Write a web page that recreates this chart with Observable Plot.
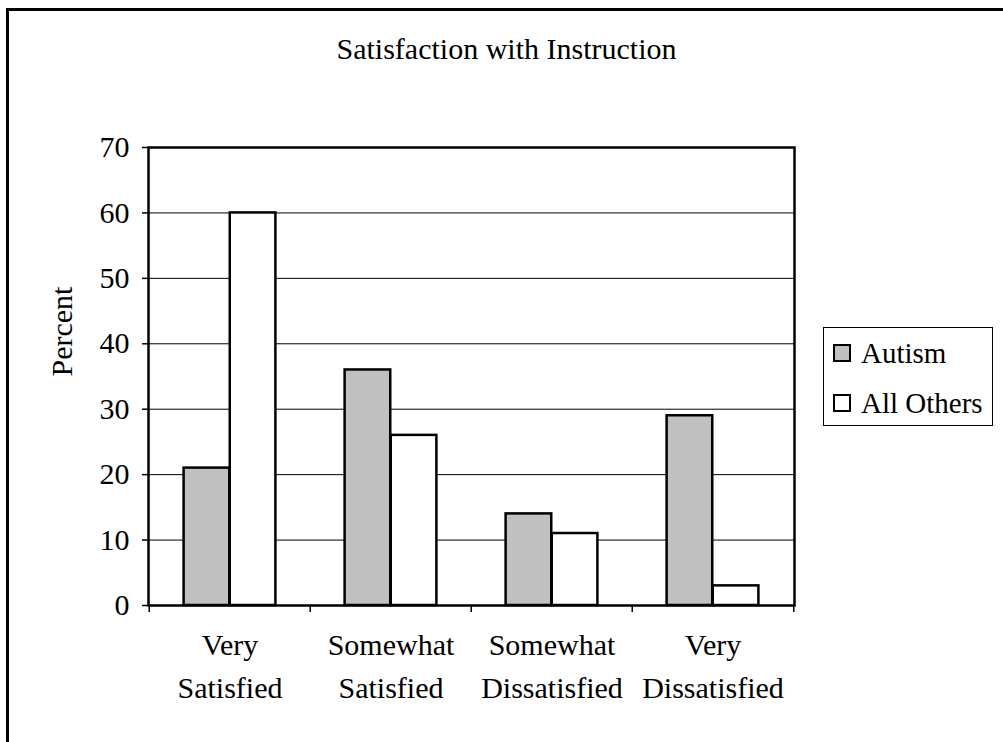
<!DOCTYPE html>
<html>
<head>
<meta charset="utf-8">
<script src="https://cdn.jsdelivr.net/npm/d3@7"></script>
<script src="https://cdn.jsdelivr.net/npm/@observablehq/plot@0.6"></script>
<style>
  html, body { margin: 0; padding: 0; background: #fff; }
  #wrap { position: relative; width: 1003px; height: 742px; overflow: hidden; background: #fff;
          font-family: "Liberation Serif", "Times New Roman", serif; color: #000; }
  #outer { position: absolute; left: 6px; top: 8px; width: 1100px; height: 733px;
           border-left: 3px solid #000; border-top: 3px solid #000; border-bottom: 1px solid #bbb; }
  #title { position: absolute; left: 0; width: 1013px; top: 32px; text-align: center; font-size: 30px; line-height: 34px; }
  #chart { position: absolute; left: 0; top: 0; }
  #legend { position: absolute; left: 823px; top: 327px; width: 170px; height: 99px; box-sizing: border-box;
            border: 1px solid #000; background: #fff; font-size: 29px; }
  .item { position: absolute; left: 9px; height: 34px; display: flex; align-items: center; white-space: nowrap; }
  .item svg { margin-right: 10px; }
</style>
</head>
<body>
<div id="wrap">
  <div id="outer"></div>
  <div id="chart"></div>
  <div id="title"></div>
  <div id="legend"></div>
</div>
<script>
// ---- data ----
const title = "Satisfaction with Instruction";
const yLabel = "Percent";
const categories = ["Very Satisfied", "Somewhat Satisfied", "Somewhat Dissatisfied", "Very Dissatisfied"];
const categoryLines = [["Very", "Satisfied"], ["Somewhat", "Satisfied"], ["Somewhat", "Dissatisfied"], ["Very", "Dissatisfied"]];
const seriesNames = ["Autism", "All Others"];
const autism = [21, 36, 14, 29];
const allOthers = [60, 26, 11, 3];
const seriesColors = ["#C0C0C0", "#FFFFFF"];
const yTicks = [0, 10, 20, 30, 40, 50, 60, 70];

// ---- layout ----
const W = 1003, H = 742;
const mL = 148, mR = 209, mT = 147, mB = 137;
const bw = (W - mL - mR) / categories.length;   // band width per category
const barW = bw / 3.5;                          // gap width 75%
const outer = (bw - 2 * barW) / 2;

const autismData = categories.map((c, i) => ({category: c, value: autism[i]}));
const othersData = categories.map((c, i) => ({category: c, value: allOthers[i]}));
const labelData = categories.map((c, i) => ({category: c, text: categoryLines[i].join("\n")}));

const font = '"Liberation Serif", "Times New Roman", serif';

const chart = Plot.plot({
  width: W, height: H,
  marginLeft: mL, marginRight: mR, marginTop: mT, marginBottom: mB,
  style: {fontFamily: font, fontSize: "30px", color: "#000", background: "transparent"},
  x: {type: "band", domain: categories, padding: 0},
  y: {domain: [0, 70]},
  marks: [
    Plot.gridY(yTicks, {stroke: "#000", strokeOpacity: 1, strokeWidth: 1}),
    Plot.barY(autismData, {x: "category", y: "value", fill: seriesColors[0], stroke: "#000", strokeWidth: 2.5,
      insetLeft: outer, insetRight: bw / 2}),
    Plot.barY(othersData, {x: "category", y: "value", fill: seriesColors[1], stroke: "#000", strokeWidth: 2.5,
      insetLeft: bw / 2, insetRight: outer}),
    Plot.frame({stroke: "#000", strokeWidth: 2.5}),
    Plot.axisY({ticks: yTicks, tickSize: 6, tickPadding: 13, label: null, fontSize: 30, strokeWidth: 1.5}),
    Plot.axisX({tickSize: 7, tickFormat: () => "", dx: -bw / 2, label: null, strokeWidth: 1.5}),
    Plot.axisX([categories[categories.length - 1]], {tickSize: 7, tickFormat: () => "", dx: bw / 2, label: null, strokeWidth: 1.5}),
    Plot.text(labelData, {x: "category", text: "text", frameAnchor: "bottom", lineAnchor: "top", dy: 19,
      lineHeight: 1.43, fontSize: 30}),
    Plot.text([yLabel], {frameAnchor: "left", rotate: -90, dx: -86, fontSize: 30})
  ]
});
document.getElementById("chart").appendChild(chart);
document.getElementById("title").textContent = title;

// legend
const legend = document.getElementById("legend");
seriesNames.forEach((name, i) => {
  const item = document.createElement("div");
  item.className = "item";
  item.style.top = (8 + i * 50) + "px";
  item.innerHTML = `<svg width="18" height="18"><rect x="1" y="1" width="16" height="16" fill="${seriesColors[i]}" stroke="#000" stroke-width="2"/></svg>`;
  const span = document.createElement("span");
  span.textContent = name;
  item.appendChild(span);
  legend.appendChild(item);
});
</script>
</body>
</html>
